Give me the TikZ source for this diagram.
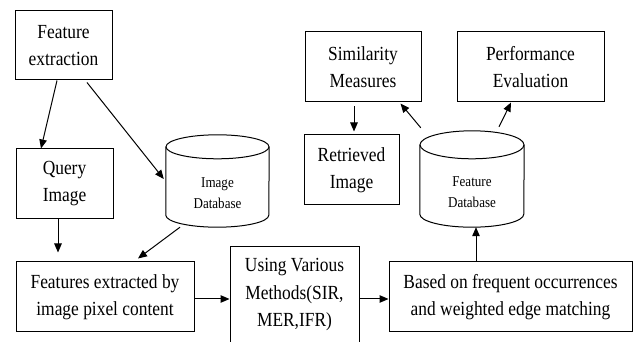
\documentclass[tikz,border=0pt]{standalone}
\usepackage{fontspec}
\setmainfont[FakeStretch=0.87]{Liberation Serif}
\usetikzlibrary{arrows.meta,calc}
\begin{document}
\begin{tikzpicture}[x=1pt,y=1pt,
  box/.style={draw,line width=1pt,inner sep=0pt,align=center,font=\fontsize{20}{27}\selectfont},
  dbtext/.style={inner sep=0pt,align=center,font=\fontsize{15}{21}\selectfont},
  arr/.style={line width=1pt,-{Triangle[length=9pt,width=7.5pt]}},
  cyl/.style={line width=1pt}]
\clip (0,0) rectangle (633,-342);
\fill[white] (0,0) rectangle (633,-342);
% boxes
\node[box,minimum width=97pt,minimum height=69pt] (fe) at (63.5,-45.5) {Feature\\extraction};
\node[box,minimum width=97pt,minimum height=70pt] (qi) at (64.5,-184) {Query\\Image};
\node[box,minimum width=178pt,minimum height=70pt] (fx) at (105,-297) {Features extracted by\\image pixel content};
\node[box,minimum width=129pt,minimum height=103pt] (uv) at (294.5,-298.5) {};
\node[inner sep=0pt,align=center,font=\fontsize{20}{27.5}\selectfont] (uvt) at (294.5,-295) {Using Various\\Methods(SIR,\\MER,IFR)};
\node[box,minimum width=243pt,minimum height=70pt] (bo) at (510.5,-297) {Based on frequent occurrences\\and weighted edge matching};
\node[box,minimum width=116pt,minimum height=70pt] (sm) at (363,-67) {Similarity\\Measures};
\node[box,minimum width=147pt,minimum height=70pt] (pe) at (530.5,-67) {Performance\\Evaluation};
\node[box,minimum width=95pt,minimum height=70pt] (ri) at (351.5,-170) {Retrieved\\Image};
% cylinders (named frames, drawn by hand)
\node[inner sep=0pt,minimum width=103pt,minimum height=92pt] (idb) at (217.5,-181) {};
\node[dbtext] (idbt) at (217.5,-193.5) {Image\\Database};
\draw[cyl] ($(idb.north west)+(0,-12)$) -- ($(idb.south west)+(0,12)$)
  arc[start angle=180,end angle=360,x radius=51.5pt,y radius=12pt]
  -- ($(idb.north east)+(0,-12)$);
\draw[cyl] ($(idb.north)+(0,-12)$) ellipse[x radius=51.5pt,y radius=12pt];
\node[inner sep=0pt,minimum width=104pt,minimum height=96pt] (fdb) at (472,-179) {};
\node[dbtext] (fdbt) at (472,-192.5) {Feature\\Database};
\draw[cyl] ($(fdb.north west)+(0,-14)$) -- ($(fdb.south west)+(0,13)$)
  arc[start angle=180,end angle=360,x radius=52pt,y radius=13pt]
  -- ($(fdb.north east)+(0,-14)$);
\draw[cyl] ($(fdb.north)+(0,-14)$) ellipse[x radius=52pt,y radius=14pt];
% connectors
\draw[arr] ([xshift=-6.5pt]fe.south) -- ([xshift=-23.5pt]qi.north);
\draw[arr] ([xshift=23.5pt,yshift=-2pt]fe.south) -- ([xshift=-2pt,yshift=2pt]idb.west);
\draw[arr] ([xshift=-6.5pt]qi.south) -- ([xshift=-47pt,yshift=9pt]fx.north);
\draw[arr] ([xshift=-37.5pt]idb.south) -- ([xshift=33pt,yshift=3pt]fx.north);
\draw[arr] ([yshift=-2pt]fx.east) -- ([yshift=-2pt]fx.east -| uv.west);
\draw[arr] ([yshift=-2pt]bo.west -| uv.east) -- ([yshift=-2pt]bo.west);
\draw[arr] ([xshift=4pt]fdb.south |- bo.north) -- ([xshift=4pt]fdb.south);
\draw[arr] ([xshift=1pt,yshift=3pt]fdb.north west) -- ([xshift=-21pt,yshift=-1pt]sm.south east);
\draw[arr] ([xshift=27pt,yshift=4pt]fdb.north) -- ([xshift=-19.5pt]pe.south);
\draw[arr] ([xshift=-9pt,yshift=-4pt]sm.south) -- ([xshift=-9pt,yshift=3pt]sm.south |- ri.north);
\end{tikzpicture}
\end{document}
